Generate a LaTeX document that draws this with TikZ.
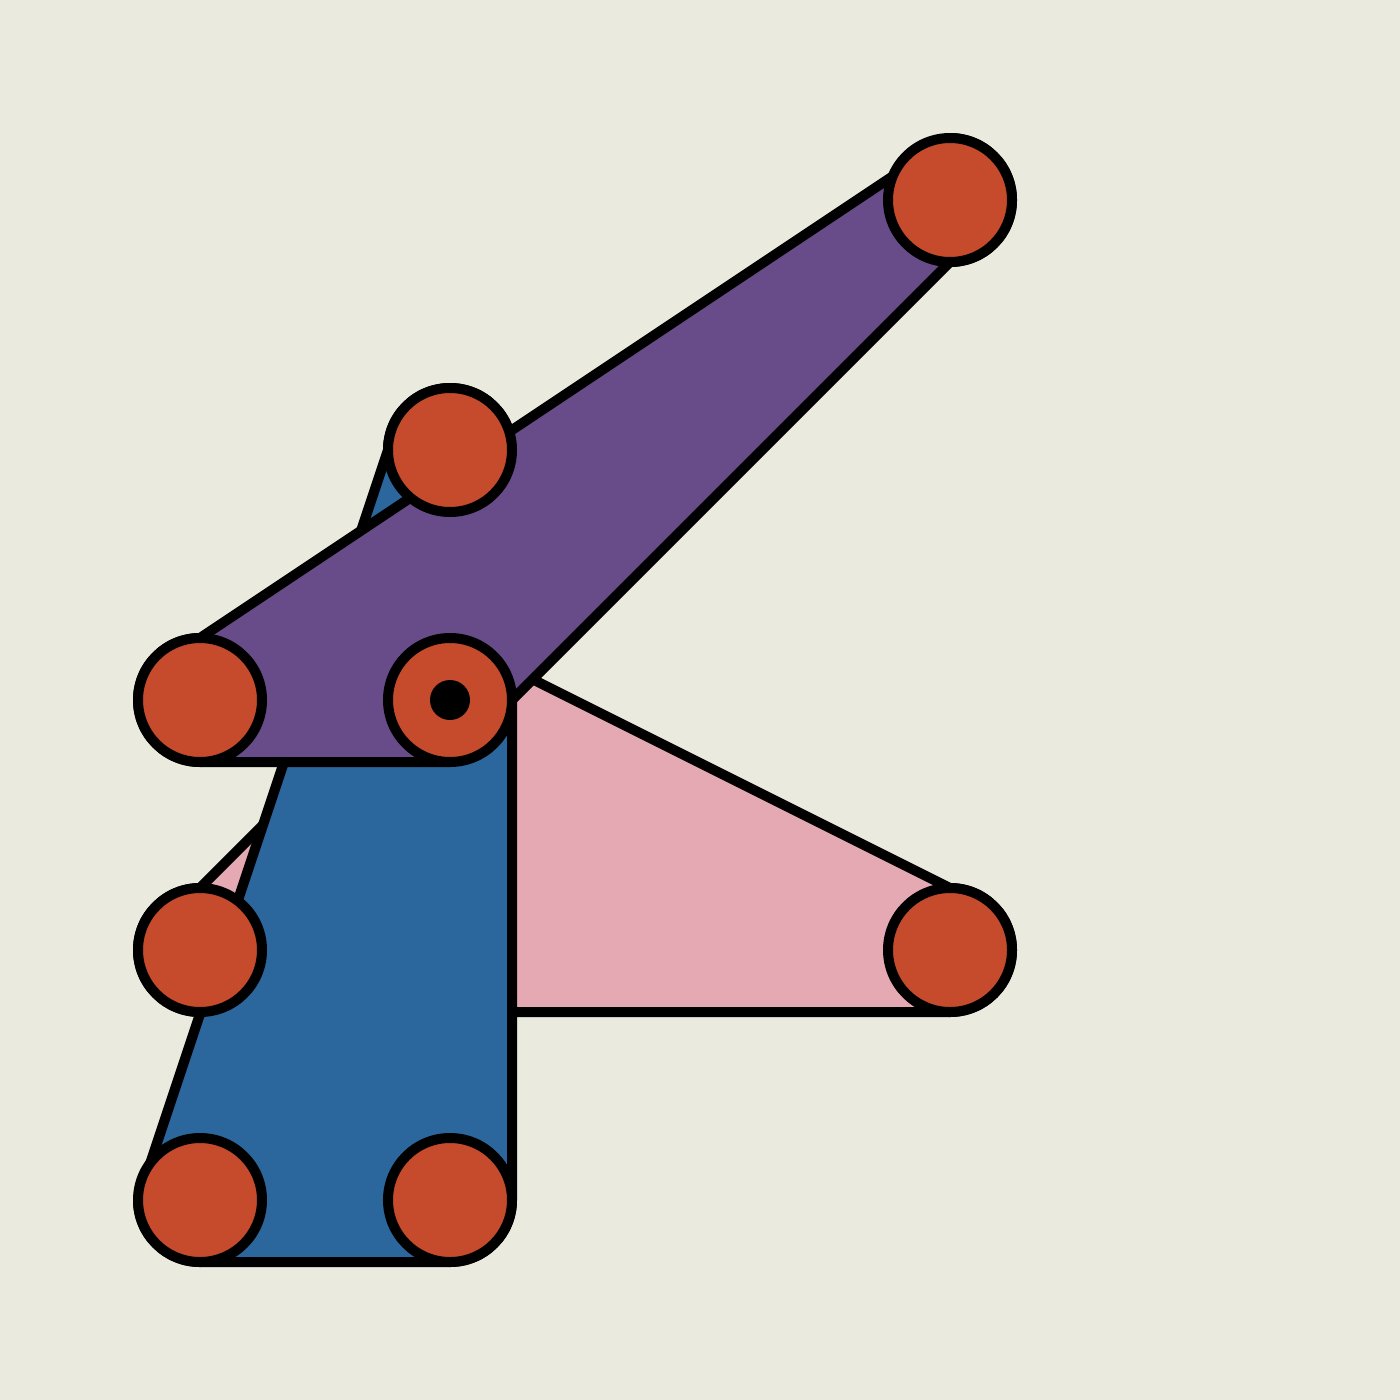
\documentclass[tikz,border=0pt]{standalone}
\definecolor{bg}{RGB}{234,234,222}
\definecolor{linkpink}{RGB}{229,169,180}
\definecolor{linkblue}{RGB}{43,102,156}
\definecolor{linkpurple}{RGB}{104,76,138}
\definecolor{jointred}{RGB}{198,75,45}
\begin{document}
\begin{tikzpicture}[x=1pt,y=-1pt,
  link/.style={draw=black, line width=10pt, line join=round},
  joint/.style={circle, draw=black, line width=10pt, fill=jointred, minimum size=124pt, inner sep=0pt},
  pin/.style={circle, fill=black, minimum size=40pt, inner sep=0pt}]
\fill[bg] (0,0) rectangle (1400,1400);
\useasboundingbox (0,0) rectangle (1400,1400);
% pink link
\draw[link, fill=linkpink] (200,888) -- (450,638) -- (950,888)
  arc[start angle=-90, end angle=90, radius=62] -- (200,1012)
  arc[start angle=90, end angle=270, radius=62] -- cycle;
% blue link
\draw[link, fill=linkblue] (388,450) -- (138,1200)
  arc[start angle=180, end angle=90, radius=62] -- (450,1262)
  arc[start angle=90, end angle=0, radius=62] -- (512,450)
  arc[start angle=0, end angle=-180, radius=62] -- cycle;
% purple link
\draw[link, fill=linkpurple] (200,638) -- (950,138)
  arc[start angle=-90, end angle=90, radius=62] -- (450,762) -- (200,762)
  arc[start angle=90, end angle=270, radius=62] -- cycle;
% joints
\node[joint] (j1) at (950,200) {};
\node[joint] (j2) at (450,450) {};
\node[joint] (j3) at (200,700) {};
\node[joint] (j4) at (450,700) {};
\node[joint] (j5) at (200,950) {};
\node[joint] (j6) at (950,950) {};
\node[joint] (j7) at (200,1200) {};
\node[joint] (j8) at (450,1200) {};
\node[pin] (p4) at (j4) {};
\end{tikzpicture}
\end{document}
